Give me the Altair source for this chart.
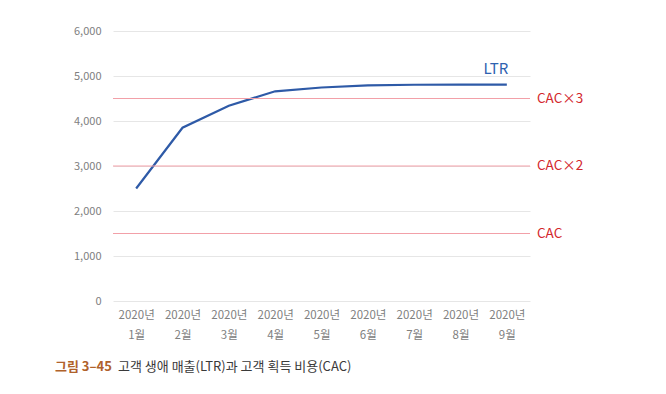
import altair as alt
import pandas as pd

months = ["2020년 1월", "2020년 2월", "2020년 3월", "2020년 4월", "2020년 5월",
          "2020년 6월", "2020년 7월", "2020년 8월", "2020년 9월"]
ltr = [2500, 3850, 4340, 4660, 4745, 4790, 4805, 4810, 4810]

cac_values = [1500, 3000, 4500]
cac_labels = ["CAC", "CAC×2", "CAC×3"]

y_ticks = [0, 1000, 2000, 3000, 4000, 5000, 6000]

FONT = "Noto Sans CJK KR"

line_df = pd.DataFrame({"month": months, "ltr": ltr})
cac_df = pd.DataFrame({"v": cac_values, "label": cac_labels})
ltr_label_df = pd.DataFrame({"month": [months[-1]], "v": [5160], "label": ["LTR"]})

y_scale = alt.Scale(domain=[0, 6000])

x_axis = alt.Axis(labelAngle=0, domain=False, ticks=False,
                  labelExpr="split(datum.label, ' ')",
                  labelColor="#808080", labelFontSize=11.5,
                  labelLineHeight=20, labelPadding=8, labelFont=FONT,
                  grid=False)
y_axis = alt.Axis(values=y_ticks, labelExpr="format(datum.value, ',')",
                  domain=False, ticks=False,
                  labelColor="#808080", labelFontSize=11, labelPadding=12,
                  labelFont=FONT, grid=True, gridColor="#e6e6e6", gridWidth=1)

base_line = alt.Chart(line_df).mark_line(color="#2e5aa7", strokeWidth=2.2).encode(
    x=alt.X("month:O", sort=months, title=None, axis=x_axis),
    y=alt.Y("ltr:Q", scale=y_scale, title=None, axis=y_axis),
)

rules = alt.Chart(cac_df).mark_rule(color="#f2a0a8", strokeWidth=1).encode(
    y=alt.Y("v:Q", scale=y_scale, title=None, axis=y_axis),
)

rule_labels = alt.Chart(cac_df).mark_text(
    align="left", baseline="middle", color="#d3262c", fontSize=13.5, font=FONT, dx=7
).encode(
    x=alt.value(417),
    y=alt.Y("v:Q", scale=y_scale, title=None, axis=y_axis),
    text="label:N",
)

ltr_label = alt.Chart(ltr_label_df).mark_text(
    align="center", baseline="middle", color="#2e62b0", fontSize=15, font=FONT, dx=-11
).encode(
    x=alt.X("month:O", sort=months, title=None, axis=x_axis),
    y=alt.Y("v:Q", scale=y_scale, title=None, axis=y_axis),
    text="label:N",
)

cap_df = pd.DataFrame({"a": ["그림 3–45"], "b": ["고객 생애 매출(LTR)과 고객 획득 비용(CAC)"]})
cap1 = alt.Chart(cap_df).mark_text(
    align="left", baseline="middle", color="#b0622b", fontSize=13, fontWeight="bold", font=FONT
).encode(x=alt.value(-58), y=alt.value(336), text="a:N")
cap2 = alt.Chart(cap_df).mark_text(
    align="left", baseline="middle", color="#3a3a3a", fontSize=13, font=FONT
).encode(x=alt.value(5), y=alt.value(336), text="b:N")

chart = alt.layer(base_line, rules, rule_labels, ltr_label, cap1, cap2).properties(
    width=417, height=270,
    autosize=alt.AutoSizeParams(type="none"),
    padding={"left": 105, "top": 23, "right": 120, "bottom": 75},
).configure(font=FONT).configure_view(stroke=None)

chart.save("out.html", embed_options={"renderer": "svg", "actions": False})
